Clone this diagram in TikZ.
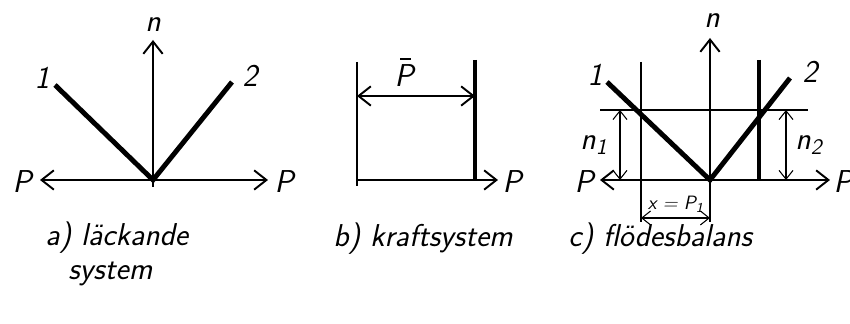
\documentclass[tikz,border=0pt]{standalone}
\usepackage{fontspec}
\usetikzlibrary{arrows.meta}

\begin{document}
\begin{tikzpicture}[x=0.02cm, y=-0.02cm,
    >={Straight Barb[length=7pt,width=11pt]},
    thinline/.style={line width=1.1pt},
    thickline/.style={line width=2.8pt},
    hairline/.style={line width=0.6pt},
    dimarrow/.style={line width=0.6pt, <->, >={Straight Barb[length=5pt,width=8pt]}},
    lbl/.style={font=\fontsize{18}{20}\selectfont\sffamily\itshape, inner sep=0pt},
    smalllbl/.style={font=\fontsize{11}{13}\selectfont\sffamily\itshape, inner sep=0pt},
    captxt/.style={font=\fontsize{18}{21}\selectfont\sffamily\itshape, inner sep=0pt, anchor=west}]
  \useasboundingbox (0,0) rectangle (850,324);

  % a) leaking system
  \coordinate (oa) at (153,180);
  \coordinate (oab) at (153,187);
  \coordinate (pal) at (40,180);
  \coordinate (par) at (268,180);
  \coordinate (na) at (153,40);
  \coordinate (a1) at (55,85);
  \coordinate (a2) at (232,82);
  \draw[thinline,<->] (pal) -- (par);
  \draw[thinline,->] (oab) -- (na);
  \draw[thickline] (a1) -- (oa) -- (a2);
  \node[lbl] (nla) at (153,25) {n};
  \node[lbl] (pla) at (22,182) {P};
  \node[lbl] (pra) at (284,182) {P};
  \node[lbl] (one_a) at (42,78) {1};
  \node[lbl] (two_a) at (250,76) {2};

  % b) force system
  \coordinate (blt) at (357,62);
  \coordinate (blb) at (357,186);
  \coordinate (brt) at (475,60);
  \coordinate (brb) at (475,180);
  \coordinate (bax) at (357,180);
  \coordinate (bend) at (498,180);
  \coordinate (bdl) at (357,96);
  \coordinate (bdr) at (475,96);
  \draw[thinline] (blt) -- (blb);
  \draw[thickline] (brt) -- (brb);
  \draw[thinline,->] (bax) -- (bend);
  \draw[thinline,<->] (bdl) -- (bdr);
  \node[lbl] (pbar) at (404,76) {P};
  \draw[thinline] ([xshift=-2pt,yshift=3pt]pbar.north) -- ([xshift=4pt,yshift=3pt]pbar.north);
  \node[lbl] (prb) at (512,182) {P};

  % c) flow balance
  \coordinate (oc) at (710,180);
  \coordinate (ocb) at (710,222);
  \coordinate (pcl) at (600,180);
  \coordinate (pcr) at (830,180);
  \coordinate (nc) at (710,38);
  \coordinate (c1) at (607,82);
  \coordinate (c2) at (790,78);
  \coordinate (vlt) at (641,62);
  \coordinate (vlb) at (641,222);
  \coordinate (vrt) at (759,60);
  \coordinate (vrb) at (759,180);
  \coordinate (hl) at (600,110);
  \coordinate (hr) at (808,110);
  \draw[thinline,<->] (pcl) -- (pcr);
  \draw[thinline,->] (ocb) -- (nc);
  \draw[thinline] (vlt) -- (vlb);
  \draw[thickline] (vrt) -- (vrb);
  \draw[hairline] (hl) -- (hr);
  \draw[thickline] (c1) -- (oc) -- (c2);
  \draw[dimarrow] (620,110) -- (620,180);
  \draw[dimarrow] (786,110) -- (786,180);
  \draw[dimarrow] (641,218) -- (710,218);
  \node[lbl] (nlc) at (712,21) {n};
  \node[lbl] (plc) at (584,182) {P};
  \node[lbl] (prc) at (843,182) {P};
  \node[lbl] (one_c) at (595,75) {1};
  \node[lbl] (two_c) at (810,72) {2};
  \node[lbl] (n1) at (594,145) {n\textsubscript{1}};
  \node[lbl] (n2) at (809,145) {n\textsubscript{2}};
  \node[smalllbl] (xp) at (676,204) {x = P\textsubscript{1}};

  % captions
  \node[captxt] (capa) at (45,238) {a) läckande};
  \node[captxt] (capa2) at (68,274) {system};
  \node[captxt] (capb) at (333,239) {b) kraftsystem};
  \node[captxt] (capc) at (568,239) {c) flödesbalans};
\end{tikzpicture}
\end{document}
